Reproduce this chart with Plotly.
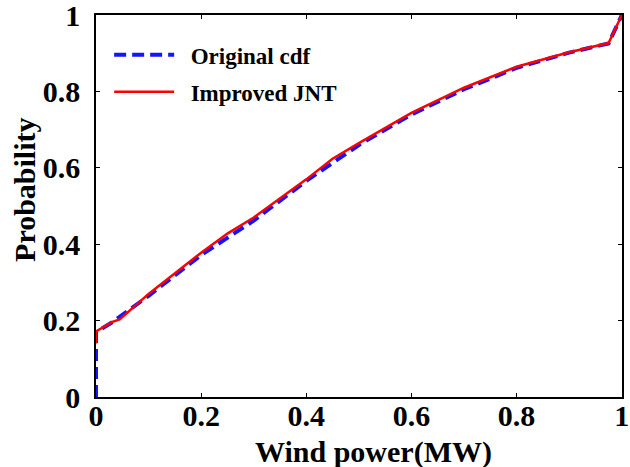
import plotly.graph_objects as go

# Original cdf (blue dashed)
orig_x = [0, 0, 0.03, 0.1, 0.2, 0.3, 0.4, 0.5, 0.6, 0.7, 0.8, 0.9, 0.975, 1.0]
orig_y = [0, 0.17, 0.195, 0.265, 0.372, 0.462, 0.566, 0.66, 0.74, 0.806, 0.862, 0.902, 0.926, 1.0]

# Improved JNT (red solid)
jnt_x = [0, 0, 0.03, 0.045, 0.1, 0.2, 0.25, 0.3, 0.4, 0.45, 0.5, 0.6, 0.7, 0.8, 0.9, 0.975, 1.0]
jnt_y = [0.14, 0.172, 0.196, 0.203, 0.27, 0.378, 0.428, 0.47, 0.57, 0.624, 0.665, 0.744, 0.81, 0.865, 0.903, 0.927, 1.0]

tick_vals = [0, 0.2, 0.4, 0.6, 0.8, 1]
tick_text = ["0", "0.2", "0.4", "0.6", "0.8", "1"]

x_title = "Wind power(MW)"
y_title = "Probability"

FONT = "Liberation Serif, Times New Roman, serif"
NB = "\u00a0\u00a0"

fig = go.Figure()
fig.add_trace(go.Scatter(
    x=orig_x, y=orig_y, mode="lines", name=NB + "Original cdf", legendgroup="a",
    line=dict(color="#1414ff", width=4, dash="12px,6px"),
))
fig.add_trace(go.Scatter(
    x=jnt_x, y=jnt_y, mode="lines", name=NB + "Improved JNT", legendgroup="b",
    line=dict(color="#ff0000", width=2.5),
))

axis_common = dict(
    range=[0, 1.0005], tickvals=tick_vals, ticktext=tick_text,
    ticks="inside", ticklen=4, tickwidth=1, tickcolor="black",
    showline=True, linecolor="black", linewidth=1.5, mirror="ticks",
    showgrid=False, zeroline=False, automargin=False,
    ticklabeloverflow="allow",
    tickfont=dict(family=FONT, size=30, color="black", weight="bold"),
)

title_font = dict(family=FONT, size=30, color="black", weight="bold")

fig.update_layout(
    template="none",
    width=630, height=467,
    margin=dict(l=96, r=8, t=15, b=70),
    paper_bgcolor="white", plot_bgcolor="white",
    font=dict(family=FONT, color="black", weight="bold"),
    xaxis=dict(**axis_common, ticklabelstandoff=-9),
    yaxis=dict(**axis_common, ticklabelstandoff=8),
    legend=dict(
        x=0.025, y=0.952, xanchor="left", yanchor="top",
        bgcolor="rgba(0,0,0,0)", borderwidth=0,
        font=dict(family=FONT, size=23, color="black", weight="bold"),
        itemwidth=60, tracegroupgap=4,
    ),
    annotations=[
        dict(text=x_title, xref="paper", yref="paper", x=0.527, y=-0.145,
             xanchor="center", yanchor="middle", showarrow=False, font=title_font),
        dict(text=y_title, xref="paper", yref="paper", x=-0.135, y=0.542,
             xanchor="center", yanchor="middle", textangle=-90, showarrow=False,
             font=title_font),
    ],
)

fig.write_html("out.html", config={"displayModeBar": False},
               post_script="document.body.style.margin='0px';")
